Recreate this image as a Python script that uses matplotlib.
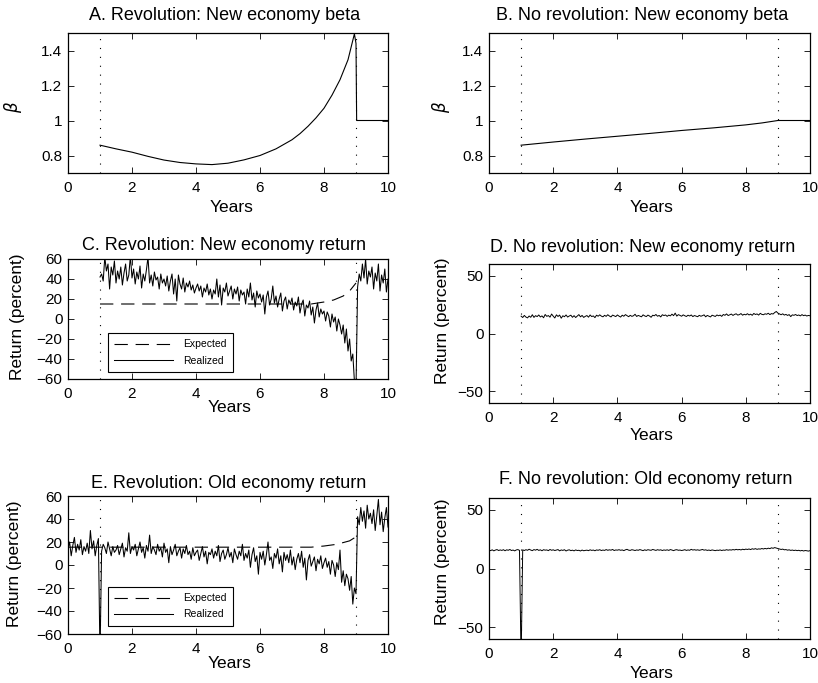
import numpy as np
import matplotlib
matplotlib.use("Agg")
import matplotlib.pyplot as plt

plt.rcParams['font.family'] = ['Liberation Sans', 'DejaVu Sans']
plt.rcParams['axes.unicode_minus'] = True

W, H = 818, 683

# ---------------- data ----------------
# Panel A: revolution, new economy beta
betaA_t = [1.0, 1.5, 2.0, 2.5, 3.0, 3.5, 4.0, 4.5, 5.0, 5.5, 6.0, 6.5, 7.0, 7.25, 7.5,
           7.75, 8.0, 8.25, 8.5, 8.75, 8.95, 9.0, 9.02, 10.0]
betaA_v = [0.859, 0.838, 0.819, 0.795, 0.774, 0.760, 0.752, 0.748, 0.756, 0.775, 0.800,
           0.838, 0.890, 0.925, 0.967, 1.015, 1.070, 1.145, 1.233, 1.347, 1.495, 1.44, 1.0, 1.0]

# Panel B: no revolution, new economy beta
betaB_t = [1, 2, 3, 4, 5, 6, 7, 8, 8.5, 9, 10]
betaB_v = [0.859, 0.877, 0.894, 0.910, 0.926, 0.943, 0.958, 0.975, 0.986, 1.0, 1.0]

# Panel C: revolution, new economy return (realized, weekly-ish from t=1 to 10)
retC_real = [42, 45, 38, 62, 48, 55, 30, 52, 44, 58, 36,
             48, 40, 52, 34, 46, 55, 38, 44, 63, 41,
             50, 35, 47, 40, 53, 31, 45, 38, 49, 62,
             36, 44, 33, 47, 39, 42, 30, 45, 36, 40,
             33, 43, 28, 38, 45, 25, 40, 18, 44, 35,
             30, 41, 27, 36, 32, 38, 29, 34, 26, 31,
             35, 28, 33, 22, 31, 27, 35, 24, 30, 20,
             29, 25, 40, 22, 34, 14, 31, 27, 36, 23,
             28, 33, 20, 30, 25, 32, 18, 29, 24, 27,
             15, 30, 22, 36, 19, 26, 12, 28, 21, 25,
             17, 24, 5, 22, 28, 14, 20, 33, 16, 23,
             12, 20, 26, 8, 18, 22, 10, 19, 15, 21,
             9, 17, 13, 22, 6, 15, 19, 3, 14, 11,
             18, 4, 12, -4, 9, 16, 2, 10, 5, 8,
             -2, 7, 3, -8, 5, -3, 2, -12, 0, -6,
             -15, -6, -24, -10, -32, -20, -42, -35, -62, -70,
             32, 45, 38, 55, 41, 60, 35, 48, 42, 52,
             30, 46, 38, 55, 28, 44, 36, 50, 27, 40]
expC_t = [1.0, 7.6, 8.0, 8.3, 8.6, 8.8, 9.0]
expC_v = [15, 15, 17, 19, 23, 28, 36]

# Panel D: no revolution, new economy return (t=1 to 10)
retD_real = [15.0, 13.8, 15.6, 14.2, 13.5, 15.1, 14.0, 16.2, 13.9, 15.4, 14.6,
             16.0, 14.3, 15.2, 13.6, 16.4, 14.8, 15.5, 14.1, 16.8, 15.0,
             13.4, 16.1, 14.7, 15.9, 13.2, 15.3, 14.5, 16.0, 14.2, 15.1,
             15.8, 14.0, 15.4, 13.8, 15.0, 16.3, 14.4, 15.6, 13.9, 14.8,
             15.5, 14.1, 16.0, 14.6, 15.2, 13.7, 15.8, 14.9, 16.1, 15.0,
             14.4, 15.7, 14.8, 16.2, 15.1, 14.3, 15.9, 15.2, 14.6, 16.0,
             15.0, 14.2, 15.8, 14.9, 16.3, 15.4, 14.5, 15.7, 14.8, 15.3,
             16.6, 14.7, 15.6, 15.0, 14.4, 16.1, 15.2, 14.6, 15.9, 15.1,
             14.0, 15.8, 15.3, 16.4, 14.9, 15.6, 14.3, 16.2, 15.5, 16.0,
             14.8, 15.9, 15.2, 16.7, 15.4, 17.6, 15.0, 16.3, 15.6, 14.9,
             16.1, 15.3, 14.7, 15.8, 15.1, 16.0, 14.6, 15.5, 15.0, 14.5,
             15.7, 14.9, 15.4, 16.1, 14.4, 15.6, 15.0, 14.3, 15.8, 15.2,
             14.7, 16.0, 15.3, 15.9, 14.8, 16.4, 15.7, 16.9, 15.5, 16.2,
             16.8, 15.6, 16.5, 17.0, 15.9, 16.3, 17.2, 15.8, 16.6, 16.1,
             17.1, 16.0, 16.7, 15.7, 17.3, 16.4, 16.9, 15.9, 17.4, 16.5,
             16.2, 17.0, 16.6, 17.5, 16.3, 17.2, 16.8, 18.1, 19.0, 17.6,
             16.9, 16.2, 17.0, 15.9, 16.5, 15.6, 16.3, 14.6, 16.1, 15.7,
             16.4, 15.5, 16.0, 15.2, 16.3, 15.4, 15.9, 15.1, 15.6, 15.3]

# Panel E: revolution, old economy return (t=0 to 10)
retE_real = [14, 20, 8, 17, 24, 11, 18, 13, 22, 9,
             16, 12, 19, 10, 30, 14, 21, 8, 17, 23,
             -80,
             12, 18, 15, 10, 20, 14, 8, 16, 11, 13,
             17, 9, 14, 19, 7, 15, 12, 28, 10, 16,
             13, 18, 8, 14, 20, 11, 15, 6, 17, 12,
             26, 10, 16, 13, 9, 18, 12, 15, 7, 19,
             11, 14, 2, 16, 9, 13, 18, 8, 12, 15,
             6, 14, 10, 17, 9, 12, 5, 15, 8, 11,
             13, 4, 10, 16, 7, 12, 1, 11, 9, 14,
             6, 12, 8, 17, 3, 10, 13, 5, 9, 15,
             7, 11, 2, 14, 9, 5, 12, 8, 18, 4,
             10, 6, 13, -2, 9, 15, 3, 8, -8, 11,
             5, 12, 0, 9, 20, 4, 7, -3, 10, 6,
             14, 1, 8, -6, 11, 4, 9, 2, 13, 0,
             7, -4, 5, 10, 2, 12, -2, 6, -13, 4,
             9, -1, 3, 7, -5, 5, 1, 8, -3, 2,
             6, -2, 3, -8, 4, 0, -10, 2, -4, 13,
             -15, -5, -18, -8, -12, -22, -10, -34, -20, -25,
             42, 35, 50, 38, 47, 32, 52, 40, 45, 36,
             48, 30, 43, 57, 35, 46, 29, 41, 50, 33]
expE_t = [0.0, 7.6, 8.0, 8.4, 8.8, 9.0]
expE_v = [15.5, 15.5, 16.5, 18, 21, 24.5]

# Panel F: no revolution, old economy return (t=0 to 10)
retF_real = [15.6, 15.2, 15.9, 15.0, 15.7, 16.1, 15.3, 15.8, 15.4, 16.0,
             15.1, 15.9, 15.5, 16.2, 15.3, 15.7, 15.0, 15.8, 16.1, 15.4,
             -80,
             15.9, 15.3, 16.0, 15.5, 16.4, 15.7, 15.2, 16.1, 15.6, 16.3,
             15.4, 15.9, 15.1, 16.0, 15.6, 15.8, 15.2, 16.2, 15.5, 15.9,
             15.3, 15.7, 16.1, 15.0, 15.8, 15.4, 16.0, 14.9, 15.6, 15.9,
             15.2, 15.6, 15.0, 15.8, 15.3, 15.5, 14.9, 15.7, 15.1, 15.4,
             15.6, 15.2, 15.9, 15.4, 15.7, 15.1, 15.8, 15.5, 16.0, 15.3,
             15.7, 15.4, 16.1, 15.5, 15.9, 15.6, 16.2, 15.3, 15.8, 15.6,
             16.0, 15.5, 15.8, 15.2, 15.9, 16.3, 15.6, 15.4, 16.0, 15.7,
             15.3, 15.8, 15.5, 16.1, 15.6, 15.2, 15.9, 15.4, 16.0, 15.7,
             15.5, 16.2, 15.8, 15.4, 16.0, 15.6, 15.9, 15.3, 15.8, 15.5,
             15.9, 15.4, 16.1, 15.7, 15.2, 15.8, 16.0, 15.5, 15.7, 15.3,
             15.6, 16.0, 15.4, 15.8, 15.5, 16.3, 15.7, 16.0, 15.6, 15.9,
             15.5, 15.8, 16.2, 15.6, 15.9, 15.4, 15.7, 15.3, 15.8, 15.5,
             15.2, 15.6, 15.4, 15.8, 15.3, 15.7, 15.5, 16.0, 15.6, 15.9,
             15.7, 16.1, 15.8, 16.3, 15.9, 16.2, 15.8, 16.4, 16.0, 16.5,
             16.2, 16.6, 16.1, 16.8, 16.4, 16.9, 16.3, 16.7, 16.5, 17.0,
             16.6, 17.1, 16.7, 17.3, 16.9, 17.6, 17.2, 17.8, 17.4, 17.0,
             16.6, 16.2, 16.5, 15.9, 16.1, 15.6, 15.9, 15.4, 15.7, 15.3,
             15.6, 15.2, 15.5, 15.0, 15.4, 14.9, 15.3, 15.1, 14.8, 15.2]

t_from1 = np.linspace(1.0, 10.0, len(retC_real))
t_from0 = np.linspace(0.0, 10.0, len(retE_real))

event_years = [1, 9]

titles = ["A. Revolution: New economy beta", "B. No revolution: New economy beta",
          "C. Revolution: New economy return", "D. No revolution: New economy return",
          "E. Revolution: Old economy return", "F. No revolution: Old economy return"]

# ---------------- figure ----------------
fig = plt.figure(figsize=(W / 100, H / 100), dpi=100)

def px_axes(left, top, right, bottom):
    return fig.add_axes([left / W, 1 - bottom / H, (right - left) / W, (bottom - top) / H])

def ftext(x, y, s, **kw):
    fig.text(x / W, 1 - y / H, s, ha='center', va='center', **kw)

axA = px_axes(68, 33, 388, 173)
axB = px_axes(489, 33, 810, 173)
axC = px_axes(68, 259, 388, 379)
axD = px_axes(489, 264, 810, 403)
axE = px_axes(68, 496, 388, 634)
axF = px_axes(489, 498, 810, 639)

LW = 0.8
dash = (0, (12, 7))

axA.plot(betaA_t, betaA_v, color='black', lw=LW)
axB.plot(betaB_t, betaB_v, color='black', lw=LW)

lC_exp, = axC.plot(expC_t, expC_v, color='black', lw=LW, linestyle=dash, label='Expected')
lC_real, = axC.plot(t_from1, retC_real, color='black', lw=0.75, label='Realized')
axD.plot(t_from1, retD_real, color='black', lw=0.7)
lE_exp, = axE.plot(expE_t, expE_v, color='black', lw=LW, linestyle=dash, label='Expected')
lE_real, = axE.plot(t_from0, retE_real, color='black', lw=0.75, label='Realized')
axF.plot(t_from0, retF_real, color='black', lw=0.7)

for ax in [axA, axB, axC, axD, axE, axF]:
    for ev in event_years:
        ax.axvline(ev, color='black', lw=0.8, linestyle=(0, (1, 7)))
    ax.set_xlim(0, 10)
    ax.set_xticks([0, 2, 4, 6, 8, 10])
    ax.tick_params(direction='in', top=True, right=True, length=4, width=0.6,
                   labelsize=11, pad=4)
    ax.tick_params(axis='x', pad=6)
    for sp in ax.spines.values():
        sp.set_linewidth(0.9)

for ax in [axA, axB]:
    ax.set_ylim(0.7, 1.5)
    ax.set_yticks([0.8, 1.0, 1.2, 1.4])
    ax.set_yticklabels(['0.8', '1', '1.2', '1.4'])
for ax in [axC, axE]:
    ax.set_ylim(-60, 60)
    ax.set_yticks([-60, -40, -20, 0, 20, 40, 60])
for ax in [axD, axF]:
    ax.set_ylim(-60, 60)
    ax.set_yticks([-50, 0, 50])

for ax, lines in [(axC, [lC_exp, lC_real]), (axE, [lE_exp, lE_real])]:
    leg = ax.legend(handles=lines, loc='lower left', bbox_to_anchor=(0.125, 0.06),
                    borderaxespad=0, fontsize=7.5, handlelength=5.6, handletextpad=1.0,
                    borderpad=0.6, labelspacing=0.6, fancybox=False, framealpha=1)
    leg.get_frame().set_edgecolor('black')
    leg.get_frame().set_linewidth(0.8)

# titles
TFS = 13
ftext(225, 15, titles[0], fontsize=TFS)
ftext(642, 15, titles[1], fontsize=TFS)
ftext(224, 245, titles[2], fontsize=TFS)
ftext(643, 247, titles[3], fontsize=TFS)
ftext(229, 483, titles[4], fontsize=TFS)
ftext(646, 480, titles[5], fontsize=TFS)

# x labels
LFS = 12.5
for x, y in [(232, 207), (652, 207), (230, 407), (652, 435), (230, 663), (652, 673)]:
    ftext(x, y, 'Years', fontsize=LFS)

# y labels
ftext(13, 107, r'$\beta$', fontsize=12, rotation=90)
ftext(441, 107, r'$\beta$', fontsize=12, rotation=90)
ftext(18, 317, 'Return (percent)', fontsize=LFS, rotation=90)
ftext(442, 321, 'Return (percent)', fontsize=LFS, rotation=90)
ftext(15, 564, 'Return (percent)', fontsize=LFS, rotation=90)
ftext(442, 562, 'Return (percent)', fontsize=LFS, rotation=90)

fig.savefig('out.png', dpi=100)
